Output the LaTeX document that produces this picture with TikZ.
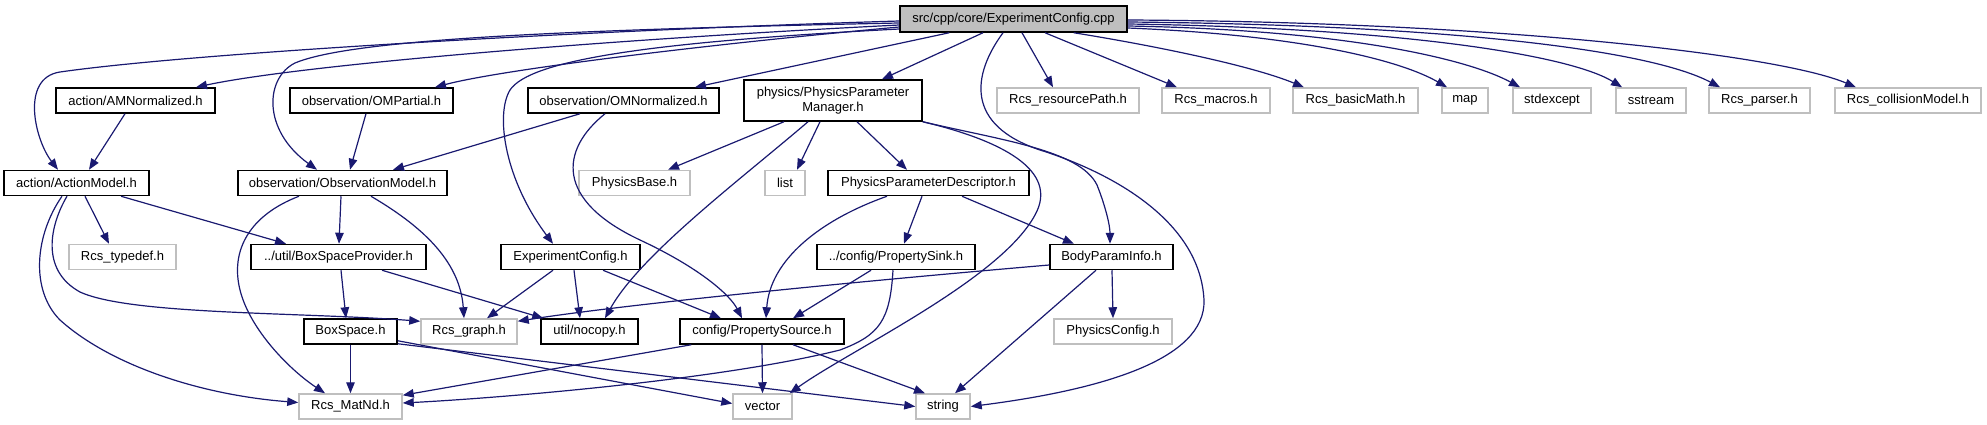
\documentclass[tikz,border=0pt]{standalone}
\usepackage{fontspec}
\setmainfont{Liberation Sans}
\usetikzlibrary{arrows.meta}
\definecolor{edgecol}{HTML}{191970}
\definecolor{lgray}{HTML}{BFBFBF}
\begin{document}
\begin{tikzpicture}[x=1pt,y=-1pt,
  box/.style={draw=black,line width=1.5pt,fill=white,inner sep=0pt,minimum height=25pt,font=\fontsize{13}{15}\selectfont,align=center},
  gbox/.style={box,draw=lgray},
  dep/.style={draw=edgecol,line width=1.2pt,-{Triangle[length=11pt,width=8.5pt]}}]
\useasboundingbox (0,0) rectangle (1987,425);
% row 0
\node[box,fill=lgray,minimum width=227pt,minimum height=26pt] (root) at (1013.5,19) {src/cpp/core/ExperimentConfig.cpp};
% row 1
\node[box,minimum width=159pt] (AM) at (135.5,100.5) {action/AMNormalized.h};
\node[box,minimum width=163pt] (OMP) at (371.5,100.5) {observation/OMPartial.h};
\node[box,minimum width=191pt] (OMN) at (623.5,100.5) {observation/OMNormalized.h};
\node[box,minimum width=178pt,minimum height=41pt] (PPM) at (833,100.5) {physics/PhysicsParameter\\Manager.h};
\node[gbox,minimum width=142pt] (RP) at (1068,100.5) {Rcs\_resourcePath.h};
\node[gbox,minimum width=108pt] (RM) at (1216,100.5) {Rcs\_macros.h};
\node[gbox,minimum width=125pt] (RB) at (1355.5,100.5) {Rcs\_basicMath.h};
\node[gbox,minimum width=46pt] (map) at (1465,100.5) {map};
\node[gbox,minimum width=78pt] (stdexcept) at (1552,100.5) {stdexcept};
\node[gbox,minimum width=70pt] (sstream) at (1651,100.5) {sstream};
\node[gbox,minimum width=101pt] (parser) at (1759.5,100.5) {Rcs\_parser.h};
\node[gbox,minimum width=146pt] (coll) at (1908,100.5) {Rcs\_collisionModel.h};
% row 2
\node[box,minimum width=145pt] (ActM) at (76.5,183) {action/ActionModel.h};
\node[box,minimum width=209pt] (ObsM) at (342.5,183) {observation/ObservationModel.h};
\node[gbox,minimum width=111pt] (PB) at (634.5,183) {PhysicsBase.h};
\node[gbox,minimum width=40pt] (list) at (785,183) {list};
\node[box,minimum width=201pt] (PPD) at (928.5,183) {PhysicsParameterDescriptor.h};
% row 3
\node[gbox,minimum width=107pt] (typedef) at (122.5,257) {Rcs\_typedef.h};
\node[box,minimum width=175pt] (BSP) at (338.5,257) {../util/BoxSpaceProvider.h};
\node[box,minimum width=139pt] (EC) at (570.5,257) {ExperimentConfig.h};
\node[box,minimum width=158pt] (PSink) at (896,257) {../config/PropertySink.h};
\node[box,minimum width=123pt] (BPI) at (1111.5,257) {BodyParamInfo.h};
% row 4
\node[box,minimum width=93pt] (BS) at (350.5,331.5) {BoxSpace.h};
\node[gbox,minimum width=96pt] (graph) at (469,331.5) {Rcs\_graph.h};
\node[box,minimum width=97pt] (nocopy) at (589.5,331.5) {util/nocopy.h};
\node[box,minimum width=164pt] (PSrc) at (762,331.5) {config/PropertySource.h};
\node[gbox,minimum width=118pt] (PC) at (1113,331.5) {PhysicsConfig.h};
% row 5
\node[gbox,minimum width=103pt] (MatNd) at (350.5,406.5) {Rcs\_MatNd.h};
\node[gbox,minimum width=59pt] (vector) at (762.5,406.5) {vector};
\node[gbox,minimum width=54pt] (string) at (943,406.5) {string};
% edges from root
\draw[dep] ([shift={(0,2)}]root.west) .. controls (600,30) and (200,52) .. (60,72) .. controls (20,78) and (35,140) .. ([shift={(-18.5,0)}]ActM.north);
\draw[dep] ([shift={(0,6)}]root.west) .. controls (600,40) and (300,65) .. ([shift={(60.5,0)}]AM.north);
\draw[dep] ([shift={(0,4)}]root.west) .. controls (550,30) and (350,40) .. (295,63) .. controls (265,78) and (262,130) .. ([shift={(-25.5,0)}]ObsM.north);
\draw[dep] ([shift={(0,8)}]root.west) .. controls (700,45) and (500,70) .. ([shift={(63.5,0)}]OMP.north);
\draw[dep] ([shift={(0,10)}]root.west) .. controls (650,42) and (530,60) .. (510,90) .. controls (495,115) and (505,180) .. ([shift={(-17.5,0)}]EC.north);
\draw[dep] ([shift={(50,0)}]root.south west) -- ([shift={(71.5,0)}]OMN.north);
\draw[dep] ([shift={(-30.5,0)}]root.south) -- ([shift={(49,0)}]PPM.north);
\draw[dep] ([shift={(-10.5,0)}]root.south) .. controls (972,75) and (965,125) .. (1040,150) .. controls (1110,172) and (1200,220) .. (1204,300) .. controls (1206,360) and (1100,390) .. (string.east);
\draw[dep] ([shift={(8.5,0)}]root.south) -- ([shift={(-15,0)}]RP.north);
\draw[dep] ([shift={(31.5,0)}]root.south) -- ([shift={(-39,0)}]RM.north);
\draw[dep] ([shift={(-54,0)}]root.south east) .. controls (1150,45) and (1250,65) .. ([shift={(-51.5,0)}]RB.north);
\draw[dep] ([shift={(0,9)}]root.east) .. controls (1300,35) and (1400,60) .. ([shift={(-18,0)}]map.north);
\draw[dep] ([shift={(0,7)}]root.east) .. controls (1350,30) and (1470,60) .. ([shift={(-32,0)}]stdexcept.north);
\draw[dep] ([shift={(0,5)}]root.east) .. controls (1400,28) and (1570,55) .. ([shift={(-29,0)}]sstream.north);
\draw[dep] ([shift={(0,3)}]root.east) .. controls (1450,25) and (1650,50) .. ([shift={(-39.5,0)}]parser.north);
\draw[dep] ([shift={(0,1)}]root.east) .. controls (1500,22) and (1780,55) .. ([shift={(-52,0)}]coll.north);
% row 1 sources
\draw[dep] ([shift={(-10.5,0)}]AM.south) -- ([shift={(12.5,0)}]ActM.north);
\draw[dep] ([shift={(-5.5,0)}]OMP.south) -- ([shift={(7.5,0)}]ObsM.north);
\draw[dep] ([shift={(-43.5,0)}]OMN.south) -- ([shift={(50.5,0)}]ObsM.north);
\draw[dep] ([shift={(-18.5,0)}]OMN.south) .. controls (560,150) and (555,200) .. (640,240) .. controls (700,268) and (730,295) .. ([shift={(-20,0)}]PSrc.north);
\draw[dep] ([shift={(-49,0)}]PPM.south) -- ([shift={(33.5,0)}]PB.north);
\draw[dep] ([shift={(-13,0)}]PPM.south) -- ([shift={(12,0)}]list.north);
\draw[dep] ([shift={(24,0)}]PPM.south) -- ([shift={(-21.5,0)}]PPD.north);
\draw[dep] ([shift={(-25,0)}]PPM.south) .. controls (740,180) and (640,255) .. ([shift={(15.5,0)}]nocopy.north);
\draw[dep] (PPM.south east) .. controls (1000,140) and (1060,170) .. (1035,215) .. controls (1000,280) and (850,350) .. ([shift={(-3,0)}]vector.north east);
\draw[dep] (PPM.south east) .. controls (1000,140) and (1080,150) .. (1097,185) .. controls (1105,205) and (1110,225) .. ([shift={(-1.5,0)}]BPI.north);
% row 2 sources
\draw[dep] ([shift={(8.5,0)}]ActM.south) -- ([shift={(-13.5,0)}]typedef.north);
\draw[dep] ([shift={(44.5,0)}]ActM.south) -- ([shift={(-52.5,0)}]BSP.north);
\draw[dep] ([shift={(-9.5,0)}]ActM.south) .. controls (50,225) and (40,270) .. (80,292) .. controls (130,315) and (300,312) .. ([shift={(0,3)}]graph.north west);
\draw[dep] ([shift={(-14.5,0)}]ActM.south) .. controls (35,235) and (30,290) .. (60,320) .. controls (110,365) and (200,395) .. ([shift={(0,-4)}]MatNd.west);
\draw[dep] ([shift={(-1.5,0)}]ObsM.south) -- ([shift={(0.5,0)}]BSP.north);
\draw[dep] ([shift={(-43.5,0)}]ObsM.south) .. controls (250,215) and (230,250) .. (240,290) .. controls (250,330) and (290,370) .. ([shift={(-25.5,0)}]MatNd.north);
\draw[dep] ([shift={(28.5,0)}]ObsM.south) .. controls (420,225) and (460,260) .. ([shift={(-5,0)}]graph.north);
\draw[dep] ([shift={(-41.5,0)}]PPD.south) .. controls (820,220) and (770,260) .. ([shift={(4,0)}]PSrc.north);
\draw[dep] ([shift={(-6.5,0)}]PPD.south) -- ([shift={(8,0)}]PSink.north);
\draw[dep] ([shift={(33.5,0)}]PPD.south) -- ([shift={(-37.5,0)}]BPI.north);
% row 3 sources
\draw[dep] ([shift={(2.5,0)}]BSP.south) -- ([shift={(-4.5,0)}]BS.north);
\draw[dep] ([shift={(43.5,0)}]BSP.south) -- ([shift={(3,0)}]nocopy.north west);
\draw[dep] ([shift={(-17.5,0)}]EC.south) -- ([shift={(18,0)}]graph.north);
\draw[dep] ([shift={(3.5,0)}]EC.south) -- ([shift={(-9.5,0)}]nocopy.north);
\draw[dep] ([shift={(32.5,0)}]EC.south) -- ([shift={(-41,0)}]PSrc.north);
\draw[dep] ([shift={(-25,0)}]PSink.south) -- ([shift={(31,0)}]PSrc.north);
\draw[dep] ([shift={(-3,0)}]PSink.south) .. controls (890,320) and (880,335) .. (840,350) .. controls (720,380) and (500,398) .. ([shift={(0,-3.5)}]MatNd.east);
\draw[dep] ([shift={(0,8)}]BPI.west) .. controls (850,282) and (620,305) .. ([shift={(0,3)}]graph.north east);
\draw[dep] ([shift={(0.5,0)}]BPI.south) -- (PC.north);
\draw[dep] ([shift={(-15.5,0)}]BPI.south) -- ([shift={(12,0)}]string.north);
% row 4 sources
\draw[dep] (BS.south) -- (MatNd.north);
\draw[dep] ([shift={(0,-4)}]BS.south east) -- ([shift={(0,-3)}]vector.west);
\draw[dep] ([shift={(0,-1)}]BS.south east) -- (string.west);
\draw[dep] ([shift={(12,0)}]PSrc.south west) -- ([shift={(0,2)}]MatNd.north east);
\draw[dep] (PSrc.south) -- (vector.north);
\draw[dep] ([shift={(31,0)}]PSrc.south) -- ([shift={(-18,0)}]string.north);
\end{tikzpicture}
\end{document}
